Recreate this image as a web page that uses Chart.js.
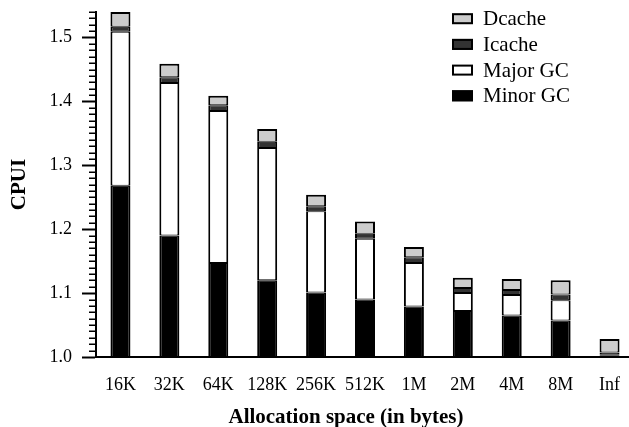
<!DOCTYPE html>
<html>
<head>
<meta charset="utf-8">
<script src="https://cdn.jsdelivr.net/npm/chart.js@4.4.1/dist/chart.umd.min.js"></script>
<style>
  html, body { margin: 0; padding: 0; overflow: hidden; background: #fff; }
  canvas { display: block; }
</style>
</head>
<body>
<canvas id="c" width="640" height="427"></canvas>
<script>
// Allocation space per run
const categories = ['16K', '32K', '64K', '128K', '256K', '512K', '1M', '2M', '4M', '8M', 'Inf'];

// CPUI reached at the top of the Minor GC segment (base CPI included)
const minorGC = [1.268, 1.190, 1.147, 1.120, 1.101, 1.090, 1.079, 1.072, 1.065, 1.057, 1.002];
// Added CPUI for each remaining component, stacked in this order
const majorGC = [0.241, 0.239, 0.238, 0.207, 0.127, 0.095, 0.068, 0.028, 0.032, 0.032, 0.0016];
const icache  = [0.008, 0.009, 0.009, 0.010, 0.008, 0.008, 0.009, 0.008, 0.008, 0.009, 0.0036];
const dcache  = [0.023, 0.021, 0.015, 0.020, 0.018, 0.019, 0.016, 0.016, 0.017, 0.022, 0.021];

const yTickValues = [1.0, 1.1, 1.2, 1.3, 1.4, 1.5];

const SERIF = '"Liberation Serif", "Times New Roman", serif';

const segBorder = { left: 2, right: 2, top: 1, bottom: 1 };

// Minor tick marks every 0.01 on the CPUI axis
const minorTicks = {
  id: 'minorTicks',
  afterDraw(chart) {
    const y = chart.scales.y;
    const ctx = chart.ctx;
    const x0 = chart.chartArea.left;
    ctx.save();
    ctx.strokeStyle = '#000';
    ctx.lineWidth = 1.5;
    for (let i = 100; i <= 154; i++) {
      if (i % 10 === 0) continue;
      const py = Math.round(y.getPixelForValue(i / 100)) + 0.25;
      ctx.beginPath();
      ctx.moveTo(x0 - 7, py);
      ctx.lineTo(x0, py);
      ctx.stroke();
    }
    ctx.restore();
  }
};

// Boxed legend in the upper right, top component first
const boxLegend = {
  id: 'boxLegend',
  afterDraw(chart) {
    const ctx = chart.ctx;
    const sets = chart.data.datasets.slice().reverse();
    ctx.save();
    ctx.font = '21px ' + SERIF;
    ctx.textBaseline = 'middle';
    ctx.textAlign = 'left';
    sets.forEach((ds, k) => {
      const cy = 18.7 + k * 25.7;
      ctx.fillStyle = ds.backgroundColor;
      ctx.fillRect(452, cy - 5.5, 21, 11);
      ctx.strokeStyle = '#000';
      ctx.lineWidth = 2;
      ctx.strokeRect(453, cy - 4.5, 19, 9);
      ctx.fillStyle = '#000';
      ctx.fillText(ds.label, 483, cy + 1);
    });
    ctx.restore();
  }
};

// Horizontal axis title
const xTitle = {
  id: 'xTitle',
  afterDraw(chart) {
    const ctx = chart.ctx;
    ctx.save();
    ctx.font = 'bold 21px ' + SERIF;
    ctx.fillStyle = '#000';
    ctx.textAlign = 'center';
    ctx.textBaseline = 'middle';
    ctx.fillText('Allocation space (in bytes)', 346, 418);
    ctx.restore();
  }
};

new Chart(document.getElementById('c'), {
  type: 'bar',
  data: {
    labels: categories,
    datasets: [
      { label: 'Minor GC', data: minorGC, backgroundColor: '#000000' },
      { label: 'Major GC', data: majorGC, backgroundColor: '#ffffff' },
      { label: 'Icache',   data: icache,  backgroundColor: '#333333' },
      { label: 'Dcache',   data: dcache,  backgroundColor: '#cccccc',
        borderWidth: { left: 2, right: 2, top: 2, bottom: 1 } }
    ].map(d => Object.assign({
      borderColor: '#000',
      borderWidth: segBorder,
      borderSkipped: false,
      barThickness: 20,
      inflateAmount: 0
    }, d))
  },
  options: {
    responsive: false,
    animation: false,
    layout: { padding: { top: 12, right: 6, left: 0, bottom: 0 } },
    plugins: {
      legend: { display: false },
      tooltip: { enabled: false }
    },
    scales: {
      x: {
        stacked: true,
        offset: true,
        grid: { display: false, drawTicks: false },
        border: { display: true, color: '#000', width: 2 },
        ticks: { color: '#000', font: { family: SERIF, size: 18 }, padding: 17, maxRotation: 0 },
        afterFit(s) { s.height = 70; s.paddingLeft = 0; s.paddingRight = 0; }
      },
      y: {
        stacked: true,
        min: 1.0,
        max: 1.54,
        grid: { display: true, drawOnChartArea: false, drawTicks: true, tickLength: 14, tickWidth: 2, tickColor: '#000' },
        border: { display: true, color: '#000', width: 2 },
        ticks: {
          color: '#000',
          font: { family: SERIF, size: 18 },
          padding: 10,
          stepSize: 0.1,
          callback: v => Number(v).toFixed(1)
        },
        afterBuildTicks(s) {
          s.ticks = yTickValues.map(v => ({ value: v }));
        },
        title: {
          display: true,
          text: 'CPUI',
          color: '#000',
          font: { family: SERIF, size: 21, weight: 'bold' },
          padding: { top: 7, bottom: 0 }
        },
        afterFit(s) { s.width = 96; s.paddingTop = 0; s.paddingBottom = 0; }
      }
    }
  },
  plugins: [minorTicks, boxLegend, xTitle]
});
</script>
</body>
</html>
